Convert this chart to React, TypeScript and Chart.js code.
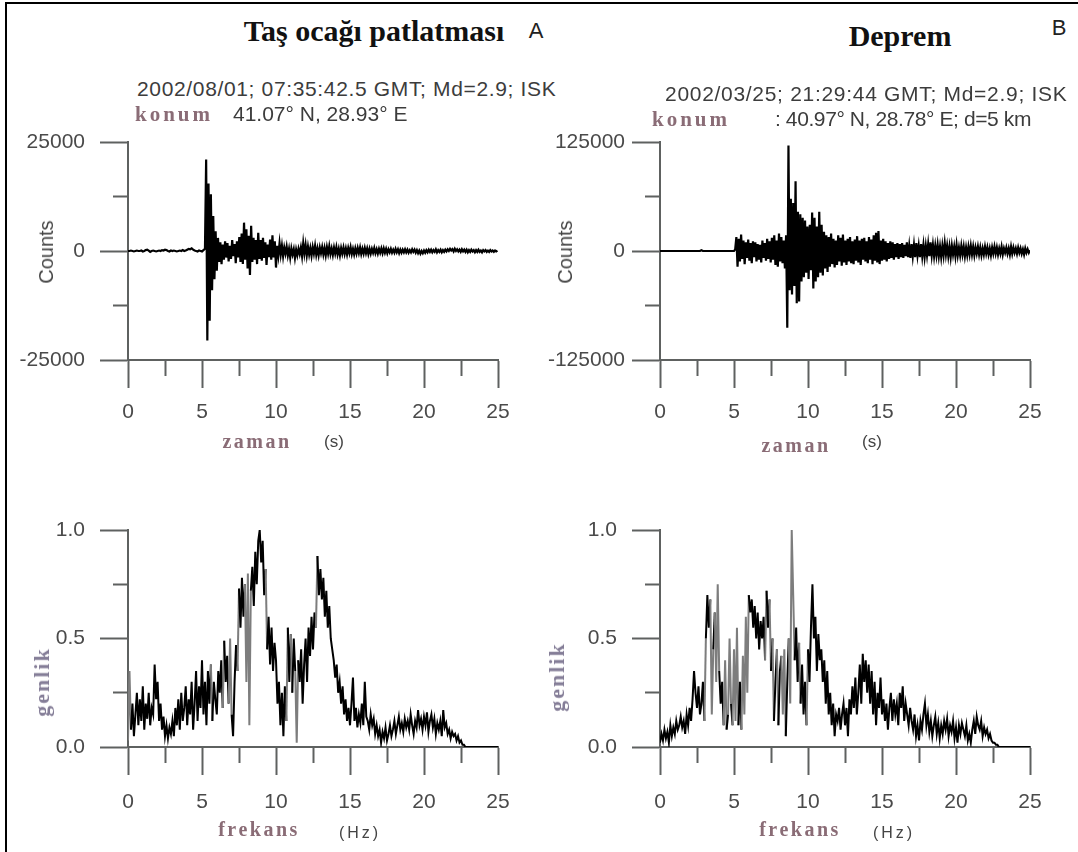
import React, { useEffect, useRef } from 'react';
import { Chart, registerables } from 'chart.js';

Chart.register(...registerables);

// ---------------- DATA ----------------
// Seismogram A (quarry blast), values in thousands of counts
const A_PRE_T0 = 0;
const A_PRE_DT = 0.1;
const A_PRE_KCOUNTS = [
  0, 0, 0.1, 0, -0.1, 0, 0.1, 0, 0, 0.1,
  -0.1, 0, 0.2, 0.3, 0.1, -0.2, 0, 0.1, 0, -0.1,
  0, 0.1, 0, 0.2, 0.1, 0.3, 0.2, 0, -0.1, 0.1,
  0, 0.1, 0, -0.1, 0, 0.1, 0, 0.2, 0, 0.1,
  0.3, 0.5, 0.4, 0.6, 0.3, 0.1, 0, -0.1, 0.1, 0,
  -0.1, 0.2,
];
const A_EVT_T0 = 5.2;
const A_EVT_DT = 0.08;
const A_EVT_KCOUNTS = [
  0.5, 21, -20.5, 15.5, -16, 13, -9, 8, -6.5, 4.5,
  -4.5, 3, -2.5, 2, -3, 1.5, -2, 2.2, -1.5, 1.8,
  -2.4, 1.2, -1.8, 2.5, -1.2, 1.6, -2.8, 2.2, -1.5, 3.2,
  -2.5, 4, -3, 6.5, -2, 5, -4, 3.5, -5.5, 5.8,
  -2.5, 3, -2, 2.5, -3, 4.2, -1.8, 2.5, -2.2, 3,
  -1.6, 2, -3.2, 1.5, -1.4, 2.6, -2, 3.6, -1.5, 2.2,
  -3.8, 1.2, -1, 1.8, -0.8, 1.2, -1.2, 0.8, -0.6, 1,
  -1, 0.5, -1.5, 0.6, -0.8, 0.4, -1.6, 0.3, -1, 0.5,
  -0.7, 0.8, -1.2, 1.8, -0.6, 1.4, -1, 1, -0.8, 0.7,
  -1.1, 0.9, -0.6, 1.2, -0.9, 0.6, -1, 0.8, -0.5, 0.9,
  -0.8, 0.7, -1, 0.9, -0.6, 1.1, -0.7, 0.6, -0.9, 0.8,
  -0.6, 0.9, -0.8, 0.5, -1, 0.7, -0.6, 0.8, -0.7, 0.6,
  -0.8, 0.7, -0.5, 0.9, -0.7, 0.5, -0.8, 0.6, -0.6, 0.7,
  -0.5, 0.8, -0.7, 0.5, -0.6, 0.7, -0.5, 0.6, -0.7, 0.5,
  -0.6, 0.5, -0.4, 0.7, -0.5, 0.4, -0.6, 0.5, -0.4, 0.6,
  -0.5, 0.6, -0.4, 0.5, -0.5, 0.4, -0.3, 0.5, -0.4, 0.3,
  -0.4, 0.5, -0.3, 0.4, -0.5, 0.3, -0.4, 0.3, -0.3, 0.4,
  -0.3, 0.3, -0.4, 0.2, -0.3, 0.4, -0.2, 0.3, -0.4, 0.2,
  -0.5, 0.1, -0.6, 0, -0.5, 0.1, -0.4, 0.2, -0.3, 0.3,
  -0.2, 0.3, -0.3, 0.2, -0.2, 0.4, -0.3, 0.2, -0.2, 0.3,
  -0.3, 0.2, -0.2, 0.3, -0.1, 0.4, 0, 0.5, 0.1, 0.4,
  -0.1, 0.5, 0, 0.4, -0.1, 0.3, -0.2, 0.4, -0.1, 0.3,
  -0.2, 0.3, -0.3, 0.2, -0.2, 0.3, -0.1, 0.2, -0.3, 0.2,
  -0.2, 0.3, -0.2, 0.1, -0.3, 0.2, -0.1, 0.2, -0.2, 0.1,
  -0.2, 0.2, -0.1, 0.1, -0.2, 0.1, -0.1, 0.1,
];

// Seismogram B (earthquake), values in thousands of counts
const B_PRE_T0 = 0;
const B_PRE_DT = 0.1;
const B_PRE_KCOUNTS = [
  0, 0, 0, 0, 0, 0, 0, 0, 0, 0,
  0, 0, 0, 0, 0, 0, 0, 0, 0, 0,
  0, 0, 0, 0, 0, 0, 0, 0, 0.9, 0,
  0, 0, 0, 0, 0, 0, 0, 0, 0, 0,
  0, 0, 0, 0, 0, 0, 0, 0, 0, 0,
  0,
];
const B_EVT_T0 = 5.08;
const B_EVT_DT = 0.08;
const B_EVT_KCOUNTS = [
  2, 16, -18, 14, -12, 19, -9, 12, -15, 10,
  -8, 13, -11, 9, -14, 11, -7, 10, -12, 8,
  -10, 7, -13, 12, -8, 9, -11, 14, -9, 11,
  -13, 15, -10, 18, -16, 12, -18, 20, -12, 16,
  -14, 12, -20, 18, -88, 121, -45, 60, -50, 55,
  -40, 80, -60, 45, -58, 42, -35, 38, -30, 35,
  -25, 28, -32, 30, -22, 44, -43, 38, -35, 28,
  -30, 45, -25, 30, -28, 22, -20, 18, -24, 16,
  -18, 20, -15, 14, -19, 12, -16, 18, -12, 15,
  -17, 19, -13, 12, -16, 14, -12, 16, -14, 11,
  -15, 13, -11, 17, -13, 12, -16, 14, -10, 15,
  -12, 11, -14, 16, -10, 13, -15, 18, -11, 21,
  -13, 23, -15, 12, -11, 14, -10, 11, -12, 9,
  -9, 11, -8, 10, -10, 8, -7, 9, -9, 8,
  -7, 9, -8, 7, -6, 10, -7, 6, -8, 8,
  -6, 7, -7, 9, -5, 6, -7, 8, -6, 7,
  -7, 6, -5, 8, -6, 10, -5, 7, -6, 6,
  -5, 7, -6, 5, -7, 6, -5, 9, -4, 6,
  -6, 5, -7, 6, -4, 5, -6, 7, -5, 4,
  -5, 6, -4, 5, -6, 4, -5, 5, -4, 6,
  -4, 5, -5, 4, -3, 5, -4, 4, -5, 3,
  -4, 5, -3, 4, -4, 3, -5, 4, -3, 5,
  -3, 4, -4, 3, -3, 5, -4, 3, -2, 4,
  -3, 3, -4, 5, -3, 4, -2, 3, -3, 4,
  -2, 3, -3, 2, -4, 3, -2, 2, -2, 1,
];

// Normalised amplitude spectra, frequency step 0.1 Hz from 0 Hz
const SPEC_F0 = 0;
const SPEC_DF = 0.1;
const C_AMPLITUDE = [
  0.03, 0.35, 0.08, 0.2, 0.05, 0.15, 0.25, 0.1, 0.22, 0.12,
  0.28, 0.08, 0.2, 0.13, 0.25, 0.1, 0.18, 0.15, 0.38, 0.22,
  0.3, 0.12, 0.2, 0.08, 0.14, 0.05, 0.1, 0.04, 0.09, 0.06,
  0.12, 0.05, 0.18, 0.1, 0.22, 0.08, 0.25, 0.12, 0.18, 0.28,
  0.1, 0.22, 0.15, 0.3, 0.08, 0.2, 0.35, 0.12, 0.28, 0.18,
  0.4, 0.15, 0.3, 0.1, 0.35, 0.2, 0.38, 0.12, 0.3, 0.22,
  0.15, 0.35, 0.25, 0.4, 0.18, 0.49, 0.3, 0.42, 0.2, 0.5,
  0.15, 0.05, 0.3, 0.47, 0.35, 0.73, 0.55, 0.78, 0.6, 0.75,
  0.3, 0.8, 0.1, 0.72, 0.83, 0.65, 0.9, 0.75, 0.95, 1.0,
  0.85, 0.95, 0.7, 0.82, 0.45, 0.6, 0.38, 0.55, 0.35, 0.48,
  0.4, 0.2, 0.3, 0.1, 0.25, 0.05, 0.28, 0.12, 0.55, 0.3,
  0.52, 0.25, 0.5, 0.35, 0.02, 0.4, 0.3, 0.45, 0.2, 0.38,
  0.5, 0.3, 0.55, 0.42, 0.6, 0.45, 0.62, 0.55, 0.88, 0.7,
  0.82, 0.68, 0.78, 0.6, 0.72, 0.55, 0.65, 0.5, 0.45, 0.4,
  0.32, 0.38, 0.25, 0.3, 0.2, 0.28, 0.15, 0.22, 0.12, 0.18,
  0.1, 0.2, 0.32, 0.12, 0.18, 0.09, 0.15, 0.11, 0.2, 0.1,
  0.3, 0.14, 0.12, 0.08, 0.15, 0.1, 0.13, 0.06, 0.1, 0.05,
  0.08, 0.02, 0.07, 0.04, 0.09, 0.03, 0.06, 0.1, 0.05, 0.08,
  0.12, 0.06, 0.1, 0.14, 0.08, 0.11, 0.07, 0.13, 0.09, 0.12,
  0.08, 0.15, 0.1, 0.06, 0.12, 0.09, 0.17, 0.1, 0.13, 0.08,
  0.14, 0.1, 0.16, 0.07, 0.12, 0.15, 0.09, 0.13, 0.06, 0.11,
  0.08, 0.12, 0.05, 0.17, 0.09, 0.11, 0.06, 0.08, 0.04, 0.07,
  0.05, 0.06, 0.03, 0.05, 0.02, 0.03, 0.01, 0.01, 0, 0,
  0, 0, 0, 0, 0, 0, 0, 0, 0, 0,
  0, 0, 0, 0, 0, 0, 0, 0, 0, 0,
  0,
];
const D_AMPLITUDE = [
  0.02, 0.06, 0.03, 0.08, 0.04, 0.07, 0.02, 0.1, 0.05, 0.09,
  0.06, 0.12, 0.08, 0.1, 0.14, 0.09, 0.12, 0.06, 0.15, 0.1,
  0.18, 0.12, 0.22, 0.35, 0.25, 0.18, 0.28, 0.15, 0.2, 0.3,
  0.12, 0.5, 0.7, 0.55, 0.68, 0.15, 0.45, 0.62, 0.3, 0.75,
  0.35, 0.2, 0.3, 0.1, 0.4, 0.08, 0.15, 0.5, 0.2, 0.1,
  0.45, 0.12, 0.55, 0.1, 0.3, 0.08, 0.42, 0.15, 0.6, 0.25,
  0.7, 0.62, 0.68, 0.55, 0.65, 0.5, 0.62, 0.45, 0.58, 0.5,
  0.6, 0.4, 0.72, 0.55, 0.68, 0.35, 0.5, 0.12, 0.3, 0.45,
  0.1, 0.35, 0.42, 0.15, 0.45, 0.05, 0.3, 0.5, 0.2, 1.0,
  0.7, 0.4, 0.55, 0.3, 0.48, 0.2, 0.38, 0.15, 0.3, 0.1,
  0.45, 0.3, 0.55, 0.75, 0.5, 0.6, 0.35, 0.52, 0.4, 0.45,
  0.3, 0.4, 0.2, 0.35, 0.15, 0.25, 0.1, 0.2, 0.05, 0.15,
  0.12, 0.18, 0.08, 0.15, 0.2, 0.1, 0.18, 0.05, 0.22, 0.15,
  0.28, 0.18, 0.32, 0.15, 0.25, 0.38, 0.2, 0.43, 0.3, 0.4,
  0.25, 0.38, 0.2, 0.35, 0.15, 0.3, 0.1, 0.25, 0.18, 0.32,
  0.15, 0.22, 0.12, 0.2, 0.08, 0.18, 0.25, 0.12, 0.22, 0.15,
  0.2, 0.1, 0.25, 0.18, 0.28, 0.12, 0.2, 0.15, 0.1, 0.18,
  0.12, 0.08, 0.15, 0.05, 0.1, 0.03, 0.12, 0.08, 0.15, 0.2,
  0.1, 0.15, 0.07, 0.12, 0.05, 0.1, 0.14, 0.06, 0.11, 0.04,
  0.1, 0.06, 0.12, 0.08, 0.13, 0.05, 0.1, 0.07, 0.12, 0.04,
  0.09, 0.02, 0.1, 0.06, 0.11, 0.08, 0.05, 0.1, 0.03, 0.06,
  0.02, 0.08, 0.12, 0.06, 0.14, 0.1, 0.08, 0.12, 0.05, 0.09,
  0.06, 0.08, 0.04, 0.06, 0.03, 0.02, 0.02, 0.01, 0.01, 0,
  0, 0, 0, 0, 0, 0, 0, 0, 0, 0,
  0, 0, 0, 0, 0, 0, 0, 0, 0, 0,
  0,
];

const X_RANGE = [0, 25];
const X_LABEL_STEP = 5;
const X_MINOR_STEP = 2.5;
const A_Y_TICKS = [-25000, 0, 25000];
const B_Y_TICKS = [-125000, 0, 125000];
const SPEC_Y_TICKS = [0, 0.5, 1.0];
const KCOUNT = 1000;

// ---------------- HELPERS ----------------
type Pt = { x: number; y: number };
function series(t0: number, dt: number, vals: number[], unit: number): Pt[] {
  return vals.map((v, i) => ({ x: +(t0 + i * dt).toFixed(3), y: v * unit }));
}

const SANS = '"Liberation Sans", Arial, Helvetica, sans-serif';
const SERIF = '"Liberation Serif", "Times New Roman", serif';
const AXIS_COLOR = '#5e6160';
const TICK_TEXT = '#4a4a4a';

type PanelCfg = {
  left: number; top: number; w: number; h: number;
  areaLeft: number; areaTop: number; areaRight: number; areaBottom: number;
  yMin: number; yMax: number; yStep: number; yLabels: number[];
  fmt: (v: number) => string;
  xPad: number; yPad: number;
  data: Pt[];
  spectrum: boolean;
};

function Panel({ cfg }: { cfg: PanelCfg }) {
  const ref = useRef<HTMLCanvasElement | null>(null);
  useEffect(() => {
    const c = cfg;
    const isMajorY = (v: number) => c.yLabels.some((t) => Math.abs(t - v) < 1e-9 * Math.max(1, Math.abs(t)));
    const isMajorX = (v: number) => Math.abs(v / X_LABEL_STEP - Math.round(v / X_LABEL_STEP)) < 1e-9;
    const chart = new Chart(ref.current as HTMLCanvasElement, {
      type: 'line',
      data: {
        datasets: [
          {
            data: c.data as any,
            borderColor: '#000',
            borderWidth: c.spectrum ? 2 : 2.2,
            pointRadius: 0,
            fill: false,
            tension: 0,
            borderJoinStyle: 'miter',
            segment: c.spectrum
              ? {
                  borderColor: (ctx: any) =>
                    Math.abs(ctx.p1.y - ctx.p0.y) > 55 ? '#7d7d7d' : '#000',
                }
              : undefined,
          } as any,
        ],
      },
      options: {
        responsive: false,
        animation: false,
        events: [],
        layout: { padding: { left: 0, top: c.areaTop, right: c.w - c.areaRight, bottom: 0 } },
        plugins: { legend: { display: false }, tooltip: { enabled: false }, title: { display: false } },
        scales: {
          x: {
            type: 'linear',
            min: X_RANGE[0],
            max: X_RANGE[1],
            afterFit: (s: any) => { s.height = c.h - c.areaBottom; },
            ticks: {
              stepSize: X_MINOR_STEP,
              autoSkip: false,
              maxRotation: 0,
              padding: c.xPad,
              color: TICK_TEXT,
              font: { family: SANS, size: 21 },
              callback: (v: any) => (isMajorX(Number(v)) ? String(v) : ''),
            },
            grid: {
              drawOnChartArea: false,
              drawTicks: true,
              tickLength: 28,
              tickWidth: 2,
              tickColor: AXIS_COLOR,
              tickBorderDash: (ctx: any) => (ctx.tick && !isMajorX(ctx.tick.value) ? [15, 200] : []),
            },
            border: { display: true, color: AXIS_COLOR, width: 2 },
          } as any,
          y: {
            type: 'linear',
            min: c.yMin,
            max: c.yMax,
            afterFit: (s: any) => { s.width = c.areaLeft; },
            ticks: {
              stepSize: c.yStep,
              padding: c.yPad,
              color: TICK_TEXT,
              font: { family: SANS, size: 21 },
              callback: (v: any) => (isMajorY(Number(v)) ? c.fmt(Number(v)) : ''),
            },
            grid: {
              drawOnChartArea: false,
              drawTicks: true,
              tickLength: 28,
              tickWidth: 2,
              tickColor: AXIS_COLOR,
              tickBorderDash: (ctx: any) => (ctx.tick && !isMajorY(ctx.tick.value) ? [0, 13, 15, 200] : []),
            },
            border: { display: true, color: AXIS_COLOR, width: 2 },
          } as any,
        },
      },
    });
    return () => chart.destroy();
  }, []);
  return (
    <canvas
      ref={ref}
      width={cfg.w}
      height={cfg.h}
      style={{ position: 'absolute', left: cfg.left, top: cfg.top, width: cfg.w, height: cfg.h }}
    />
  );
}

type TxtProps = {
  x: number; y: number; size: number; family: string; weight?: number | string;
  color?: string; ls?: number; align?: 'left' | 'center'; children: React.ReactNode;
};
// y is the text baseline
function Txt({ x, y, size, family, weight = 'normal', color = '#333', ls = 0, align = 'left', children }: TxtProps) {
  return (
    <div
      style={{
        position: 'absolute',
        left: x,
        top: y - 0.84 * size,
        fontFamily: family,
        fontSize: size,
        fontWeight: weight as any,
        color,
        letterSpacing: ls,
        lineHeight: 1,
        whiteSpace: 'nowrap',
        transform: align === 'center' ? 'translateX(-50%)' : undefined,
      }}
    >
      {children}
    </div>
  );
}

function VTxt({ x, y, size, family, weight = 'normal', color = '#333', ls = 0, children }: TxtProps) {
  return (
    <div
      style={{
        position: 'absolute',
        left: x,
        top: y,
        fontFamily: family,
        fontSize: size,
        fontWeight: weight as any,
        color,
        letterSpacing: ls,
        lineHeight: 1,
        whiteSpace: 'nowrap',
        transform: 'translate(-50%, -50%) rotate(-90deg)',
      }}
    >
      {children}
    </div>
  );
}

const MAUVE = '#8a6c76';
const GENLIK = '#847d97';

export default function App() {
  const dataA = [
    ...series(A_PRE_T0, A_PRE_DT, A_PRE_KCOUNTS, KCOUNT),
    ...series(A_EVT_T0, A_EVT_DT, A_EVT_KCOUNTS, KCOUNT),
  ];
  const dataB = [
    ...series(B_PRE_T0, B_PRE_DT, B_PRE_KCOUNTS, KCOUNT),
    ...series(B_EVT_T0, B_EVT_DT, B_EVT_KCOUNTS, KCOUNT),
  ];
  const dataC = series(SPEC_F0, SPEC_DF, C_AMPLITUDE, 1);
  const dataD = series(SPEC_F0, SPEC_DF, D_AMPLITUDE, 1);

  const fmtInt = (v: number) => String(v);
  const fmt1 = (v: number) => v.toFixed(1);

  const panels: PanelCfg[] = [
    { left: 0, top: 110, w: 540, h: 340, areaLeft: 128, areaTop: 32, areaRight: 498, areaBottom: 250,
      yMin: A_Y_TICKS[0], yMax: A_Y_TICKS[2], yStep: A_Y_TICKS[2] / 2, yLabels: A_Y_TICKS, fmt: fmtInt, xPad: 12, yPad: 15, data: dataA, spectrum: false },
    { left: 520, top: 110, w: 558, h: 340, areaLeft: 140, areaTop: 32, areaRight: 510, areaBottom: 250,
      yMin: B_Y_TICKS[0], yMax: B_Y_TICKS[2], yStep: B_Y_TICKS[2] / 2, yLabels: B_Y_TICKS, fmt: fmtInt, xPad: 12, yPad: 7, data: dataB, spectrum: false },
    { left: 0, top: 500, w: 540, h: 345, areaLeft: 128, areaTop: 30, areaRight: 498, areaBottom: 247,
      yMin: SPEC_Y_TICKS[0], yMax: SPEC_Y_TICKS[2], yStep: 0.25, yLabels: SPEC_Y_TICKS, fmt: fmt1, xPad: 15, yPad: 15, data: dataC, spectrum: true },
    { left: 520, top: 500, w: 558, h: 345, areaLeft: 140, areaTop: 30, areaRight: 510, areaBottom: 247,
      yMin: SPEC_Y_TICKS[0], yMax: SPEC_Y_TICKS[2], yStep: 0.25, yLabels: SPEC_Y_TICKS, fmt: fmt1, xPad: 15, yPad: 15, data: dataD, spectrum: true },
  ];

  return (
    <div style={{ position: 'absolute', left: 0, top: 0, width: 1078, height: 852, overflow: 'hidden', background: '#fff' }}>
      <div style={{ position: 'absolute', left: 5, top: 2, width: 1200, height: 1000, borderLeft: '2px solid #000', borderTop: '2px solid #000' }} />
      {panels.map((p, i) => (
        <Panel key={i} cfg={p} />
      ))}

      {/* titles */}
      <Txt x={374} y={41} size={30} family={SERIF} weight="bold" color="#111" align="center">Taş ocağı patlatması</Txt>
      <Txt x={536} y={38} size={22} family={SANS} color="#222" align="center">A</Txt>
      <Txt x={900} y={46} size={30} family={SERIF} weight="bold" color="#111" align="center">Deprem</Txt>
      <Txt x={1059} y={35} size={22} family={SANS} color="#222" align="center">B</Txt>

      {/* event info */}
      <Txt x={137} y={96} size={21} family={SANS} color="#3c3c3c" ls={0.65}>2002/08/01; 07:35:42.5 GMT; Md=2.9; ISK</Txt>
      <Txt x={135} y={122} size={21} family={SERIF} weight="bold" color={MAUVE} ls={3}>konum</Txt>
      <Txt x={233} y={121} size={21} family={SANS} color="#3c3c3c">41.07° N, 28.93° E</Txt>
      <Txt x={665} y={101} size={21} family={SANS} color="#3c3c3c" ls={0.7}>2002/03/25; 21:29:44 GMT; Md=2.9; ISK</Txt>
      <Txt x={652} y={127} size={21} family={SERIF} weight="bold" color={MAUVE} ls={3}>konum</Txt>
      <Txt x={775} y={126} size={21} family={SANS} color="#3c3c3c" ls={-0.4}>: 40.97° N, 28.78° E; d=5 km</Txt>

      {/* axis titles */}
      <VTxt x={46} y={252} size={20} family={SANS} color="#444">Counts</VTxt>
      <VTxt x={565} y={252} size={20} family={SANS} color="#444">Counts</VTxt>
      <Txt x={257} y={448} size={20} family={SERIF} weight="bold" color={MAUVE} ls={2.5} align="center">zaman</Txt>
      <Txt x={334} y={447} size={17} family={SANS} color="#444" align="center">(s)</Txt>
      <Txt x={796} y={452} size={20} family={SERIF} weight="bold" color={MAUVE} ls={2.5} align="center">zaman</Txt>
      <Txt x={872} y={447} size={17} family={SANS} color="#444" align="center">(s)</Txt>

      <VTxt x={42} y={682} size={22} family={SERIF} weight="bold" color={GENLIK} ls={2}>genlik</VTxt>
      <VTxt x={557} y={677} size={22} family={SERIF} weight="bold" color={GENLIK} ls={2}>genlik</VTxt>
      <Txt x={259} y={836} size={20} family={SERIF} weight="bold" color={MAUVE} ls={2.5} align="center">frekans</Txt>
      <Txt x={360} y={838} size={16} family={SANS} color="#444" ls={3} align="center">(Hz)</Txt>
      <Txt x={800} y={836} size={20} family={SERIF} weight="bold" color={MAUVE} ls={2.5} align="center">frekans</Txt>
      <Txt x={894} y={838} size={16} family={SANS} color="#444" ls={3} align="center">(Hz)</Txt>
    </div>
  );
}
